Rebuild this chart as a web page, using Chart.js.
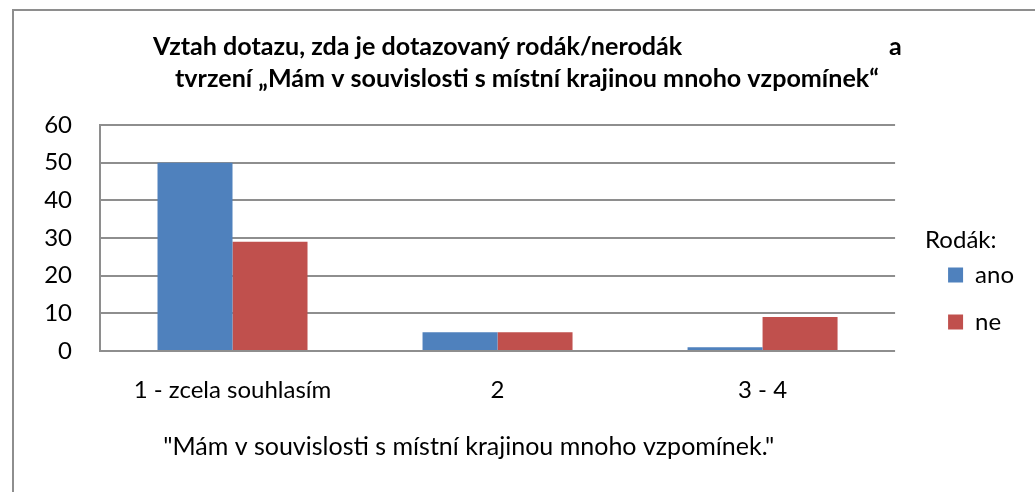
<!DOCTYPE html>
<html>
<head>
<meta charset="utf-8">
<script src="https://cdn.jsdelivr.net/npm/chart.js@4/dist/chart.umd.min.js"></script>
<style>
  html, body { margin: 0; padding: 0; background: #fff; }
  #wrap { position: relative; width: 1035px; height: 492px; overflow: hidden; }
  #frame { position: absolute; left: 12px; top: 9px; width: 1100px; height: 600px;
           border-left: 2px solid #8e8e8e; border-top: 2px solid #8e8e8e; }
  canvas { position: absolute; left: 0; top: 0; }
</style>
</head>
<body>
<div id="wrap">
  <div id="frame"></div>
  <canvas id="c" width="1035" height="492"></canvas>
</div>
<script>
const categories = ['1 - zcela souhlasím', '2', '3 - 4'];
const anoValues = [50, 5, 1];
const neValues = [29, 5, 9];
const seriesNames = ['ano', 'ne'];
const legendTitle = 'Rodák:';
const titleLine1 = 'Vztah dotazu, zda je dotazovaný rodák/nerodák';
const titleLine1End = 'a';
const titleLine2 = 'tvrzení „Mám v souvislosti s místní krajinou mnoho vzpomínek“';
const xAxisTitle = '"Mám v souvislosti s místní krajinou mnoho vzpomínek."';

const FONT = 'Lato, "Open Sans", sans-serif';
const FS = 24;
const XT_FS = 25;

// trailing non-breaking spaces shift the centred axis title left (as in the original)
const mctx = document.createElement('canvas').getContext('2d');
mctx.font = XT_FS + 'px ' + FONT;
const nbspW = mctx.measureText('\u00A0').width || 5;
const xTitlePad = '\u00A0'.repeat(Math.round(55 / nbspW));

const titlePlugin = {
  id: 'excelTitle',
  afterDraw(chart) {
    const ctx = chart.ctx;
    ctx.save();
    ctx.fillStyle = '#000';
    ctx.textBaseline = 'middle';
    ctx.textAlign = 'left';
    ctx.font = 'bold 24px ' + FONT;
    const w = ctx.measureText(titleLine2).width;
    const size = Math.min(26, Math.max(18, 24 * 705 / w));
    ctx.font = 'bold ' + size.toFixed(1) + 'px ' + FONT;
    ctx.fillText(titleLine1, 153, 47);
    ctx.fillText(titleLine1End, 889, 47);
    ctx.fillText(titleLine2, 175, 79);
    ctx.restore();
  }
};

new Chart(document.getElementById('c'), {
  type: 'bar',
  data: {
    labels: categories,
    datasets: [
      { label: seriesNames[0], data: anoValues, backgroundColor: '#4F81BD', borderWidth: 0 },
      { label: seriesNames[1], data: neValues, backgroundColor: '#C0504D', borderWidth: 0 }
    ]
  },
  options: {
    responsive: false,
    animation: false,
    devicePixelRatio: 1,
    layout: { padding: { left: 0, top: 125, right: 11, bottom: 0 } },
    datasets: { bar: { categoryPercentage: 0.566, barPercentage: 1.0 } },
    scales: {
      x: {
        afterFit(scale) { scale.height = 141; },
        grid: { display: false, drawTicks: false },
        border: { display: false },
        ticks: { color: '#000', font: { family: FONT, size: FS }, padding: 25, maxRotation: 0 },
        title: { display: true, text: xAxisTitle + xTitlePad, color: '#000',
                 font: { family: FONT, size: XT_FS }, padding: { top: 0, bottom: 30 } }
      },
      y: {
        min: 0, max: 60,
        afterFit(scale) { scale.width = 100; },
        ticks: { stepSize: 10, color: '#000', font: { family: FONT, size: FS }, padding: 28 },
        grid: { color: '#8e8e8e', lineWidth: 2, drawTicks: false },
        border: { display: true, color: '#8e8e8e', width: 2 }
      },
      gap: {
        type: 'linear',
        position: 'right',
        afterFit(scale) { scale.width = 30; },
        grid: { display: false, drawTicks: false },
        border: { display: false },
        ticks: { display: false }
      }
    },
    plugins: {
      title: { display: false },
      tooltip: { enabled: false },
      legend: {
        position: 'right',
        align: 'start',
        title: { display: true, text: legendTitle, color: '#000', position: 'start',
                 font: { family: FONT, size: FS }, padding: { top: 103, bottom: -16.8 } },
        labels: { color: '#000', font: { family: FONT, size: FS }, boxWidth: 15, boxHeight: 15, padding: 23 }
      }
    }
  },
  plugins: [titlePlugin]
});
</script>
</body>
</html>
